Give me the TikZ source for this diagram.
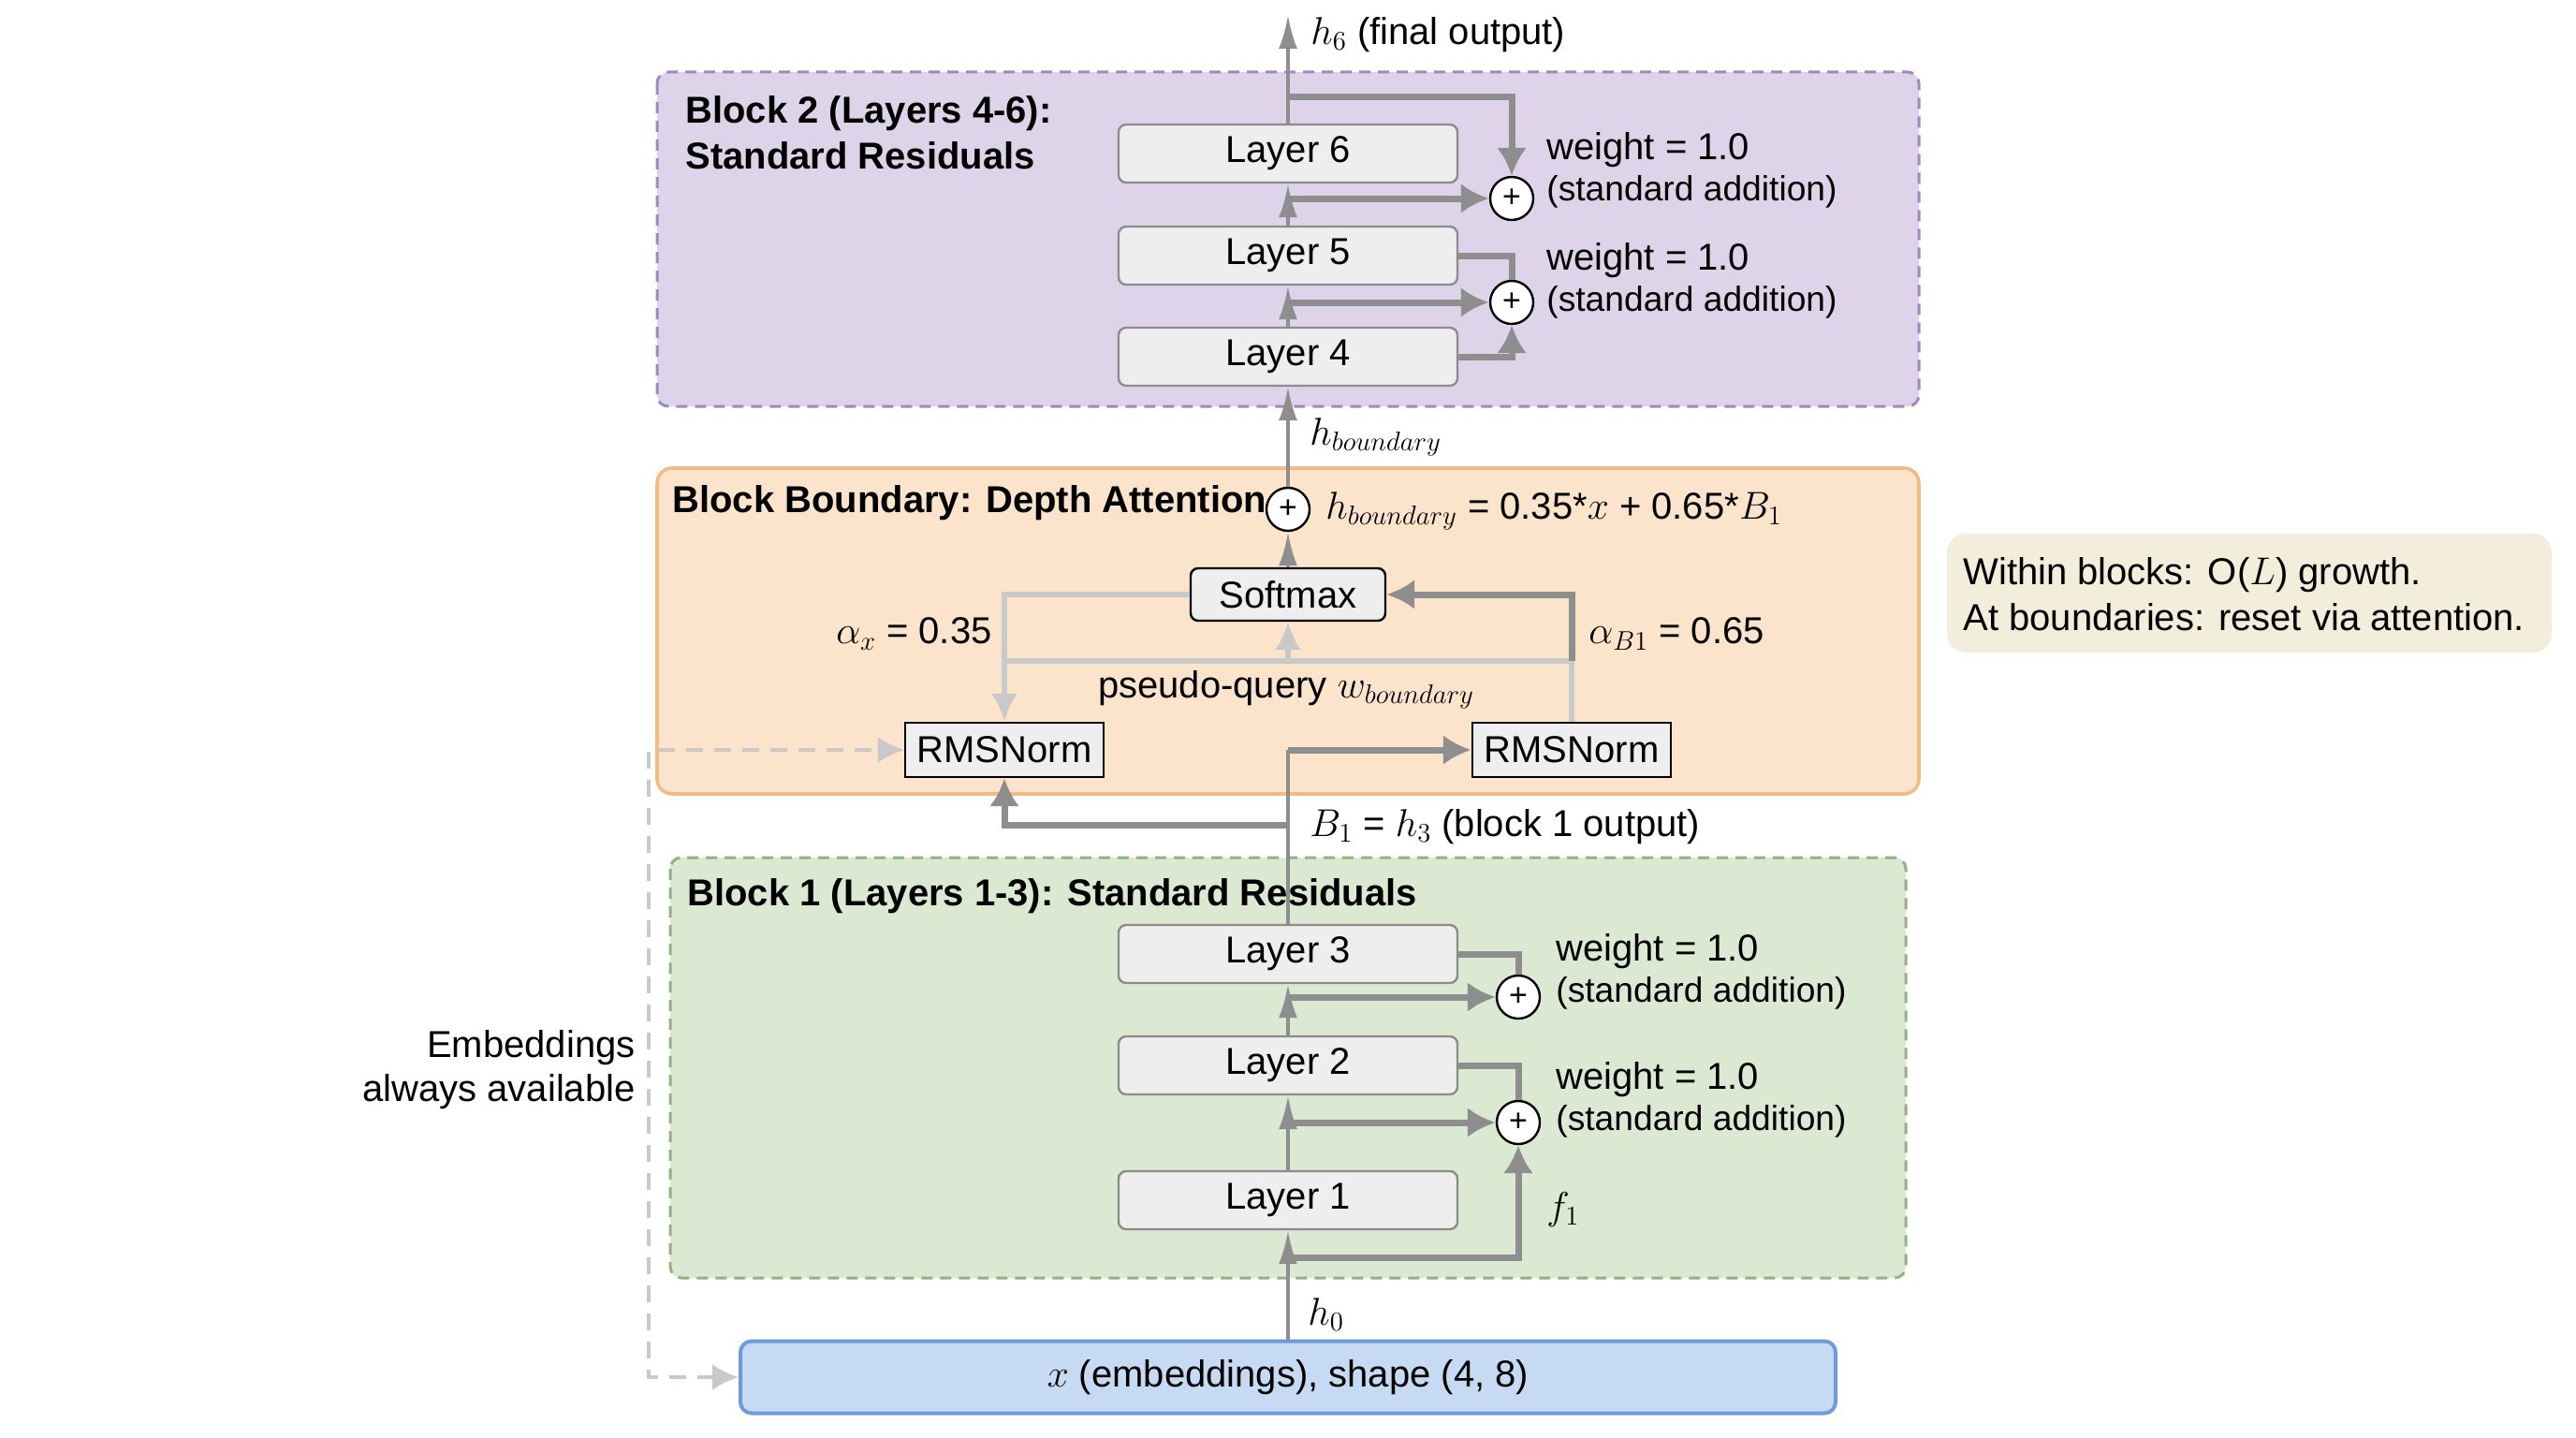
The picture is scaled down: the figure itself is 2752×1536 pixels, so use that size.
\documentclass[tikz,border=0pt]{standalone}
\usepackage{fontspec}
\setmainfont{Liberation Sans}
\usetikzlibrary{arrows.meta}

\definecolor{purplefill}{HTML}{DDD4EA}
\definecolor{purpleline}{HTML}{9B89C2}
\definecolor{orangefill}{HTML}{FCE3CC}
\definecolor{orangeline}{HTML}{F2BA84}
\definecolor{greenfill}{HTML}{DBE9D2}
\definecolor{greenline}{HTML}{8FB382}
\definecolor{bluefill}{HTML}{C7DAF3}
\definecolor{blueline}{HTML}{6F9BDA}
\definecolor{notefill}{HTML}{F3EEDC}
\definecolor{linegray}{HTML}{8E8E8E}
\definecolor{lightline}{HTML}{C9C9C9}
\definecolor{boxgray}{HTML}{EEEEEE}

\tikzset{
  layerbox/.style={draw=black!45, line width=1.2pt, fill=boxgray, rounded corners=4pt,
    minimum width=181pt, minimum height=31pt, inner sep=0pt},
  normbox/.style={draw=black, line width=1.2pt, fill=boxgray,
    minimum width=106pt, minimum height=29pt, inner sep=0pt},
  softbox/.style={normbox, rounded corners=4pt, minimum width=104pt, minimum height=28pt},
  plusnode/.style={circle, draw=black, line width=1.2pt, fill=white, minimum size=23pt,
    inner sep=0pt, font=\fontsize{17}{17}\selectfont},
  spine/.style={draw=linegray, line width=2pt, -{Latex[length=18pt,width=10pt]}},
  branch/.style={draw=linegray, line width=3.5pt},
  branchto/.style={branch, -{Latex[length=15pt,width=16pt]}},
  faint/.style={draw=lightline, line width=3pt},
  faintto/.style={faint, -{Latex[length=15pt,width=14pt]}},
  dashline/.style={draw=lightline, line width=2pt, dash pattern=on 9pt off 6pt,
    {Latex[length=14pt,width=14pt]}-{Latex[length=14pt,width=14pt]}},
  lbl/.style={inner sep=0pt, anchor=west},
  titletext/.style={inner sep=0pt, anchor=west, align=left,
    font=\fontsize{20}{24.5}\selectfont\bfseries},
  weighttext/.style={inner sep=0pt, anchor=west, align=left,
    font=\fontsize{20}{22}\selectfont}
}
\newcommand{\addnote}{{\fontsize{18.6}{22}\selectfont(standard addition)}}

\begin{document}
\begin{tikzpicture}[x=0.5pt,y=0.5pt,yscale=-1,font=\fontsize{20}{24}\selectfont]
\useasboundingbox (0,0) rectangle (2752,1536);
\fill[white] (0,0) rectangle (2752,1536);

%Block frames
\draw[fill=purplefill, draw=purpleline, line width=1.5pt, dash pattern=on 6pt off 4pt, rounded corners=6pt]
  (702,77) rectangle (2050,434);
\draw[fill=orangefill, draw=orangeline, line width=1.8pt, rounded corners=8pt]
  (702,500) rectangle (2050,848);
\draw[fill=greenfill, draw=greenline, line width=1.5pt, dash pattern=on 6pt off 4pt, rounded corners=6pt]
  (716,916) rectangle (2036,1365);
\fill[notefill, rounded corners=10pt] (2080,570) rectangle (2726,697);

%Titles
\node[titletext] (t2) at (732,142) {Block 2 (Layers 4-6):\\Standard Residuals};
\node[titletext] (tb) at (718,537) {Block Boundary: Depth Attention};
\node[titletext] (t1) at (734,957) {Block 1 (Layers 1-3): Standard Residuals};

%Input
\node[draw=blueline, fill=bluefill, line width=2pt, rounded corners=6pt,
  minimum width=585pt, minimum height=38.5pt, inner sep=0pt] (emb) at (1376,1471)
  {$x$ (embeddings), shape (4, 8)};

%Layers
\node[layerbox] (L1) at (1376,1282) {Layer 1};
\node[layerbox] (L2) at (1376,1138) {Layer 2};
\node[layerbox] (L3) at (1376,1019) {Layer 3};
\node[layerbox] (L4) at (1376,381) {Layer 4};
\node[layerbox] (L5) at (1376,273) {Layer 5};
\node[layerbox] (L6) at (1376,164) {Layer 6};

%Additions
\node[plusnode] (p1) at (1622,1199) {+};
\node[plusnode] (p2) at (1622,1065) {+};
\node[plusnode] (p4) at (1615,323) {+};
\node[plusnode] (p5) at (1615,212) {+};
\node[plusnode] (bplus) at (1376,544) {+};

%Depth attention
\node[softbox] (soft) at (1376,635) {Softmax};
\node[normbox] (rmsL) at (1073,801) {RMSNorm};
\node[normbox] (rmsR) at (1679,801) {RMSNorm};

%Block 1 wiring
\coordinate (f1pt) at (1376,1343);
\draw[spine] (emb.north) -- (L1.south);
\draw[branchto] (f1pt) -| (p1.south);
\draw[spine] (L1.north) -- (L2.south);
\draw[branchto] (L1.north |- p1) -- (p1.west);
\draw[branch] (L2.east) -| (p1.north);
\draw[spine] (L2.north) -- (L3.south);
\draw[branchto] (L2.north |- p2) -- (p2.west);
\draw[branch] (L3.east) -| (p2.north);

%Into the boundary
\coordinate (bsplit) at (1376,881);
\draw[draw=linegray, line width=2pt] (L3.north) -- (L3.north |- rmsR);
\draw[branchto] (L3.north |- rmsR) -- (rmsR.west);
\draw[branchto] (bsplit) -| (rmsL.south);
\draw[dashline] (emb.west) -- (693,1471) |- (rmsL.west);

%Query and softmax
\coordinate (qrow) at (1376,706);
\draw[faint] (rmsL.north |- qrow) -- (rmsR.north |- qrow);
\draw[faintto] (qrow) -- (soft.south);
\draw[faintto] (soft.west) -| (rmsL.north);
\draw[faint] (rmsR.north) -- (rmsR.north |- qrow);
\draw[branchto] (rmsR.north |- qrow) |- (soft.east);
\draw[spine] (soft.north) -- (bplus.south);
\draw[spine] (bplus.north) -- (L4.south);

%Block 2 wiring
\coordinate (top6) at (1376,104);
\coordinate (out) at (1376,16);
\draw[spine] (L4.north) -- (L5.south);
\draw[branchto] (L4.east) -| (p4.south);
\draw[branchto] (L4.north |- p4) -- (p4.west);
\draw[branch] (L5.east) -| (p4.north);
\draw[spine] (L5.north) -- (L6.south);
\draw[branchto] (L5.north |- p5) -- (p5.west);
\draw[branchto] (top6) -| (p5.north);
\draw[spine] (L6.north) -- (out);

%Labels
\node[lbl] (hout) at (1400,37) {$h_6$ (final output)};
\node[lbl] (hbnd) at (1399,467) {$h_{boundary}$};
\node[lbl] (hfor) at (1416,546) {$h_{boundary}$ = 0.35*$x$ + 0.65*$B_1$};
\node[lbl, anchor=east] (ax) at (1060,677) {$\alpha_x$ = 0.35};
\node[lbl] (ab) at (1697,677) {$\alpha_{B1}$ = 0.65};
\node[lbl, anchor=center] (pq) at (1374,737) {pseudo-query $w_{boundary}$};
\node[lbl] (b1o) at (1399,883) {$B_1$ = $h_3$ (block 1 output)};
\node[lbl] (h0) at (1397,1404) {$h_0$};
\node[lbl] (f1) at (1652,1292) {$f_1$};
\node[weighttext] (w5) at (1652,182) {weight = 1.0\\\addnote};
\node[weighttext] (w4) at (1652,300) {weight = 1.0\\\addnote};
\node[weighttext] (w2) at (1662,1038) {weight = 1.0\\\addnote};
\node[weighttext] (w1) at (1662,1175) {weight = 1.0\\\addnote};
\node[lbl, anchor=east, align=right, font=\fontsize{20}{23.5}\selectfont] (embnote) at (679,1143)
  {Embeddings\\always available};
\node[lbl, align=left, font=\fontsize{20}{24.5}\selectfont] (note) at (2097,635)
  {Within blocks: O($L$) growth.\\At boundaries: reset via attention.};
\end{tikzpicture}
\end{document}
